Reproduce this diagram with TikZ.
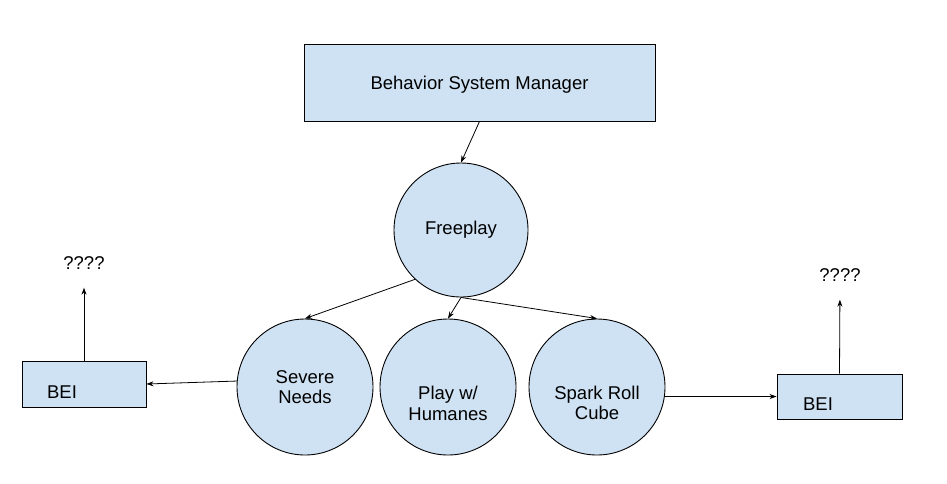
\documentclass[tikz,border=0pt]{standalone}
\usepackage{fontspec}
\setmainfont{Liberation Sans}
\usetikzlibrary{arrows.meta}
\definecolor{boxblue}{HTML}{CFE2F3}
\begin{document}
\begin{tikzpicture}[x=1pt,y=-1pt,
  box/.style={draw=black, fill=boxblue, line width=0.9pt, inner sep=0pt, font=\fontsize{18.5}{20.5}\selectfont},
  circ/.style={circle, draw=black, fill=boxblue, line width=0.9pt, minimum size=136pt, inner sep=0pt, align=center, font=\fontsize{18.5}{20.5}\selectfont},
  conn/.style={-{Stealth[length=7pt,width=5pt]}, line width=0.8pt},
  txt/.style={font=\fontsize{18.5}{20.5}\selectfont, inner sep=0pt, align=center}]
\useasboundingbox[fill=white] (0,0) rectangle (947,483);

\node[box, minimum width=351pt, minimum height=77pt,
  label={[txt, yshift=-2.5pt]center:Behavior System Manager}] (bsm) at (479.5,82.5) {};
\node[circ, minimum size=134pt] (free) at (461,230) {Freeplay};
\node[circ] (severe) at (305,387) {Severe\\Needs};
\node[circ, label={[txt, yshift=-16.5pt]center:Play w/\\Humanes}] (play) at (448,387) {};
\node[circ, label={[txt, yshift=-16pt]center:Spark Roll\\Cube}] (spark) at (597,387) {};

\node[box, minimum width=124pt, minimum height=46pt] (bei1) at (84,384) {};
\node[txt, xshift=-22pt, yshift=-8pt] (bei1t) at (bei1) {BEI};
\node[box, minimum width=125pt, minimum height=45pt] (bei2) at (839.5,396.5) {};
\node[txt, xshift=-21.5pt, yshift=-8pt] (bei2t) at (bei2) {BEI};

\node[txt] (q1) at (84,263) {????};
\node[txt] (q2) at (840,275) {????};

\draw[conn] (bsm.south) -- (free.north);
\draw[conn] (free.227) -- (severe.north);
\draw[conn] (free.south) -- (play.north);
\draw[conn] (free.south) -- (spark.north);
\draw[conn] (severe.175) -- (bei1.east);
\draw[conn] (spark.-8) -- (bei2.west);
\draw[conn, shorten >=18pt] (bei1.north) -- (q1.south);
\draw[conn, shorten >=18pt] (bei2.north) -- (q2.south);
\end{tikzpicture}
\end{document}
